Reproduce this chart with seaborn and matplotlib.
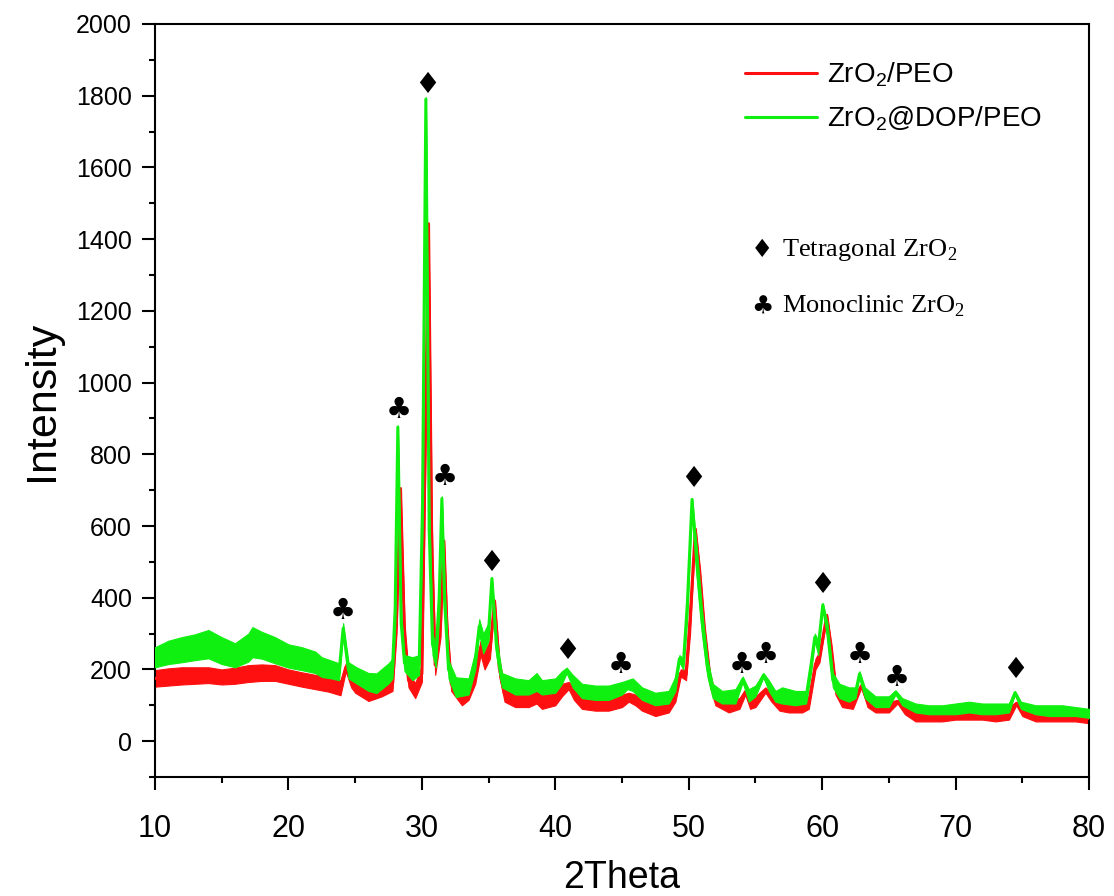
import matplotlib
matplotlib.use("Agg")
import matplotlib.pyplot as plt
import matplotlib.font_manager as fm
from matplotlib.ticker import MultipleLocator
import numpy as np
import pandas as pd
import seaborn as sns

# ---------------------------------------------------------------------------
# XRD traces: 2theta positions with the lower / upper edge of the noisy signal
# ---------------------------------------------------------------------------
peo_2theta = [10, 11, 12, 13, 14, 15, 16, 17, 18, 19, 20, 21, 22, 23, 23.9, 24.3, 24.7,
              25, 26, 27, 27.8, 28.1, 28.4, 28.7, 29, 29.5, 30, 30.25, 30.5, 30.75, 31,
              31.4, 31.65, 31.9, 32.2, 33, 33.5, 34, 34.4, 34.7, 35.1, 35.45, 35.8, 36.2,
              37, 38, 38.6, 39, 40, 40.5, 41, 41.4, 42, 43, 44, 45, 45.5, 46, 46.5, 47.5,
              48.5, 49, 49.4, 49.8, 50.1, 50.5, 50.85, 51.2, 51.6, 52, 53, 53.8, 54.25,
              54.6, 55, 55.75, 56.2, 56.8, 57.5, 58.5, 59, 59.5, 59.8, 60.35, 60.7, 61,
              61.5, 62.3, 62.95, 63.4, 64, 65, 65.65, 66.2, 67, 68, 69, 70, 71, 72, 73,
              74, 74.55, 75, 76, 77, 78, 79, 80]
peo_low = [152, 155, 158, 160, 162, 158, 160, 165, 168, 168, 160, 152, 145, 138, 128, 195, 150,
           135, 112, 125, 140, 300, 700, 250, 150, 120, 165, 750, 1440, 420, 185,
           290, 555, 260, 140, 100, 115, 160, 240, 200, 230, 385, 180, 110,
           95, 95, 105, 90, 100, 125, 145, 115, 90, 85, 85, 95, 110, 100, 85, 70,
           80, 110, 180, 170, 300, 585, 420, 260, 150, 100, 80, 90, 130,
           90, 95, 135, 110, 85, 80, 80, 90, 200, 220, 345, 220, 130,
           95, 90, 150, 95, 80, 80, 105, 75, 55, 55, 55, 60, 60, 60, 55,
           60, 100, 70, 55, 55, 55, 55, 50]
peo_high = [198, 203, 206, 206, 206, 200, 205, 212, 214, 212, 200, 192, 185, 178, 170, 217, 185,
            178, 150, 160, 178, 380, 708, 330, 190, 162, 212, 900, 1446, 600, 240,
            380, 562, 330, 180, 140, 160, 210, 280, 250, 280, 395, 230, 150,
            130, 130, 150, 130, 135, 160, 165, 150, 125, 120, 120, 130, 135, 130, 115, 105,
            115, 150, 200, 200, 380, 595, 480, 320, 190, 130, 115, 120, 145,
            120, 125, 150, 135, 115, 115, 115, 125, 230, 250, 355, 270, 170,
            130, 125, 160, 125, 110, 110, 115, 100, 85, 85, 85, 90, 95, 90, 90,
            95, 110, 95, 85, 85, 85, 85, 75]

dop_2theta = [10, 11, 12, 13, 14, 15, 16, 17, 17.3, 18, 19, 20, 21, 22, 22.5, 23.2, 23.8, 24.1,
              24.5, 25.1, 26, 26.6, 27.5, 27.8, 28.0, 28.2, 28.45, 28.7, 29.3, 29.8, 30.05,
              30.3, 30.55, 30.8, 31.05, 31.3, 31.5, 31.7, 32, 32.55, 33.5, 34, 34.3, 34.6,
              35, 35.25, 35.6, 36, 37, 38, 38.6, 39, 40, 40.5, 40.85, 41.3, 42, 43, 44,
              45, 45.4, 45.8, 46.5, 47.5, 48.5, 49, 49.3, 49.6, 49.9, 50.25, 50.6, 51.0,
              51.4, 51.8, 52.5, 53.5, 54.05, 54.5, 55, 55.6, 56, 56.5, 57, 58, 58.8,
              59.2, 59.45, 59.7, 60.05, 60.4, 60.8, 61.3, 62, 62.5, 62.8, 63.2, 64, 65,
              65.5, 66, 67, 68, 69, 70, 71, 72, 73, 74, 74.45, 74.9, 76, 77, 78, 79, 80]
dop_low = [206, 215, 220, 226, 231, 215, 206, 222, 234, 230, 217, 205, 198, 190, 179, 175, 170, 300,
           175, 161, 140, 134, 161, 175, 320, 870, 300, 195, 170, 185, 600,
           1785, 520, 240, 206, 350, 670, 360, 175, 123, 130, 200, 300, 245,
           280, 450, 235, 150, 130, 130, 140, 130, 135, 160, 190, 150, 120, 115, 115,
           130, 145, 140, 115, 100, 105, 140, 220, 200, 350, 670, 460, 300,
           180, 120, 105, 105, 165, 110, 125, 178, 140, 110, 105, 100, 105,
           200, 280, 240, 375, 285, 150, 120, 110, 120, 180, 120, 95, 95,
           130, 100, 80, 75, 75, 75, 80, 75, 75, 80, 130, 90, 75, 70, 70, 70, 65]
dop_high = [262, 280, 290, 298, 310, 290, 273, 300, 318, 305, 290, 270, 262, 250, 234, 225, 217, 329,
            220, 206, 190, 189, 217, 230, 420, 881, 360, 240, 234, 240, 720,
            1796, 660, 300, 262, 450, 683, 430, 225, 178, 175, 250, 340, 300,
            330, 457, 285, 190, 175, 170, 190, 170, 175, 195, 205, 185, 160, 155, 155,
            165, 170, 175, 150, 135, 140, 180, 240, 230, 420, 678, 540, 365,
            230, 160, 140, 145, 180, 145, 155, 190, 170, 140, 150, 140, 140,
            240, 300, 280, 385, 330, 190, 160, 150, 150, 195, 150, 125, 125,
            142, 120, 105, 100, 100, 105, 110, 105, 105, 105, 140, 110, 100, 100, 100, 95, 90]

# Phase markers: 2theta of the reflection and height of the symbol
tetragonal_2theta = [30.39, 35.18, 40.88, 50.32, 59.99, 74.45]
tetragonal_height = [1829, 496, 251, 731, 435, 198]
monoclinic_2theta = [24.09, 28.29, 31.73, 44.93, 53.99, 55.79, 62.84, 65.61]
monoclinic_height = [362, 923, 736, 212, 212, 240, 240, 176]

series_names = ["ZrO$_\\mathregular{2}$/PEO", "ZrO$_\\mathregular{2}$@DOP/PEO"]
series_colors = ["#ff1010", "#10f010"]

x_ticks = [10, 20, 30, 40, 50, 60, 70, 80]
y_ticks = [0, 200, 400, 600, 800, 1000, 1200, 1400, 1600, 1800, 2000]

assert len(peo_2theta) == len(peo_low) == len(peo_high)
assert len(dop_2theta) == len(dop_low) == len(dop_high)

frames = []
for name, xs, lo, hi in [(series_names[0], peo_2theta, peo_low, peo_high),
                         (series_names[1], dop_2theta, dop_low, dop_high)]:
    lo = np.asarray(lo, float)
    hi = np.asarray(hi, float)
    frames.append(pd.DataFrame({"two_theta": xs, "low": lo, "high": hi,
                                "intensity": (lo + hi) / 2, "sample": name}))
xrd = pd.concat(frames, ignore_index=True)

# ---------------------------------------------------------------------------
sns.set_theme(style="ticks")
installed = {f.name for f in fm.fontManager.ttflist}
sans = "Liberation Sans" if "Liberation Sans" in installed else "DejaVu Sans"
serif = "Liberation Serif" if "Liberation Serif" in installed else "DejaVu Serif"
plt.rcParams["font.family"] = [sans, "DejaVu Sans"]
plt.rcParams["axes.linewidth"] = 1.5
plt.rcParams["text.color"] = "black"
plt.rcParams["axes.labelcolor"] = "black"
plt.rcParams["xtick.color"] = "black"
plt.rcParams["ytick.color"] = "black"

fig = plt.figure(figsize=(11.14, 8.96), dpi=100)
ax = fig.add_axes([155 / 1114, 1 - 777 / 896, 934 / 1114, 753 / 896])

for i, (name, color) in enumerate(zip(series_names, series_colors)):
    sub = xrd[xrd["sample"] == name]
    ax.fill_between(sub["two_theta"], sub["low"], sub["high"], color=color,
                    linewidth=0.8, edgecolor=color, zorder=2 + 2 * i)
    sns.lineplot(data=sub, x="two_theta", y="intensity", color=color, linewidth=2.2,
                 label=name, ax=ax, zorder=3 + 2 * i, estimator=None, sort=False)

# phase symbols above the reflections
for xv, yv in zip(tetragonal_2theta, tetragonal_height):
    ax.text(xv, yv, "\u2666", ha="center", va="center", fontsize=21,
            family="DejaVu Sans", color="black", zorder=10)
for xv, yv in zip(monoclinic_2theta, monoclinic_height):
    ax.text(xv, yv, "\u2663", ha="center", va="center", fontsize=21,
            family="DejaVu Sans", color="black", zorder=10)

# phase key
ax.text(55.5, 1369, "\u2666", ha="center", va="center", fontsize=18, family="DejaVu Sans")
ax.text(57.0, 1369, "Tetragonal ZrO$_\\mathregular{2}$", ha="left", va="center",
        fontsize=19, family=serif)
ax.text(55.5, 1213, "\u2663", ha="center", va="center", fontsize=18, family="DejaVu Sans")
ax.text(57.0, 1213, "Monoclinic ZrO$_\\mathregular{2}$", ha="left", va="center",
        fontsize=19, family=serif)

ax.set_xlim(10, 80)
ax.set_ylim(-100, 2000)
ax.set_xticks(x_ticks)
ax.set_yticks(y_ticks)
ax.xaxis.set_minor_locator(MultipleLocator(5))
ax.yaxis.set_minor_locator(MultipleLocator(100))
ax.tick_params(axis="both", which="major", direction="out", length=9.5, width=1.5,
               top=False, right=False, colors="black")
ax.tick_params(axis="both", which="minor", direction="out", length=4.5, width=1.5,
               top=False, right=False, colors="black")
ax.tick_params(axis="y", which="major", labelsize=18, pad=7)
ax.tick_params(axis="x", which="major", labelsize=22, pad=17)
for side in ["top", "right", "left", "bottom"]:
    ax.spines[side].set_visible(True)
    ax.spines[side].set_color("black")
    ax.spines[side].set_linewidth(1.5)

ax.set_xlabel("2Theta", fontsize=27, labelpad=12, color="black")
ax.set_ylabel("Intensity", fontsize=31, labelpad=10, color="black")

leg = ax.legend(loc="upper left", bbox_to_anchor=(0.605, 0.985), frameon=False,
                fontsize=20, handlelength=2.6, handletextpad=0.35, labelspacing=0.55)
for text in leg.get_texts():
    text.set_color("black")
for line in leg.get_lines():
    line.set_linewidth(2.2)

fig.savefig("out.png", dpi=100, facecolor="white")
